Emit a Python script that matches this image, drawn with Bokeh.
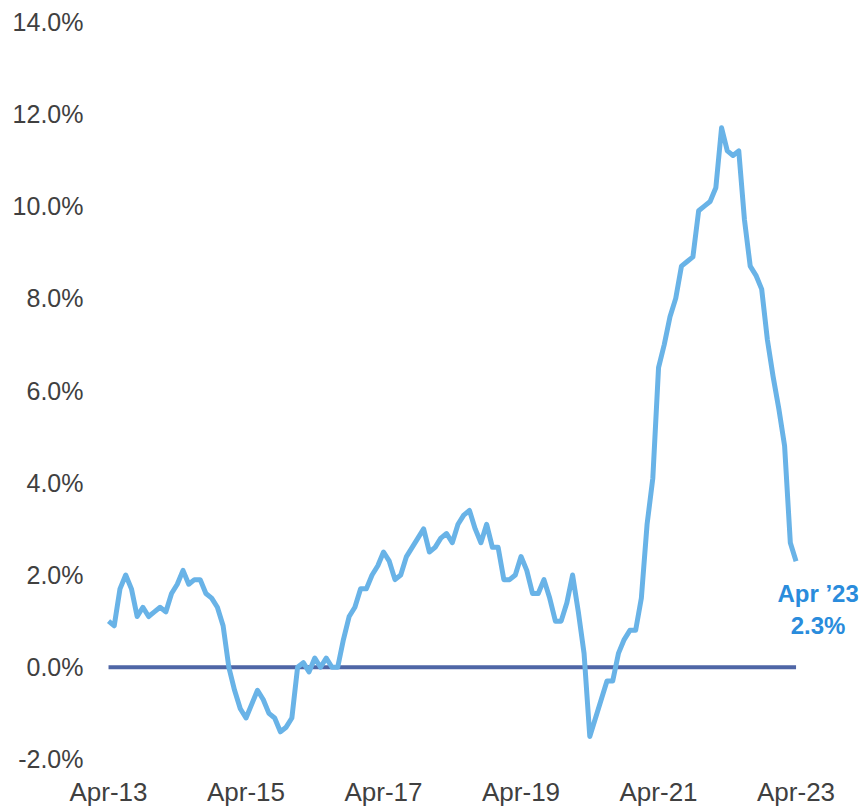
from bokeh.plotting import figure
from bokeh.models import FixedTicker, PrintfTickFormatter, Range1d, Label
from bokeh.embed import file_html
from bokeh.resources import INLINE

# ---- data ----
values = [
    1.0, 0.9, 1.7, 2.0, 1.7, 1.1, 1.3, 1.1, 1.2, 1.3, 1.2, 1.6,
    1.8, 2.1, 1.8, 1.9, 1.9, 1.6, 1.5, 1.3, 0.9, 0.0, -0.5, -0.9,
    -1.1, -0.8, -0.5, -0.7, -1.0, -1.1, -1.4, -1.3, -1.1, 0.0, 0.1, -0.1,
    0.2, 0.0, 0.2, 0.0, 0.0, 0.6, 1.1, 1.3, 1.7, 1.7, 2.0, 2.2,
    2.5, 2.3, 1.9, 2.0, 2.4, 2.6, 2.8, 3.0, 2.5, 2.6, 2.8, 2.9,
    2.7, 3.1, 3.3, 3.4, 3.0, 2.7, 3.1, 2.6, 2.6, 1.9, 1.9, 2.0,
    2.4, 2.1, 1.6, 1.6, 1.9, 1.5, 1.0, 1.0, 1.4, 2.0, 1.2, 0.3,
    -1.5, -1.1, -0.7, -0.3, -0.3, 0.3, 0.6, 0.8, 0.8, 1.5, 3.1, 4.1,
    6.5, 7.0, 7.6, 8.0, 8.7, 8.8, 8.9, 9.9, 10.0, 10.1, 10.4, 11.7,
    11.2, 11.1, 11.2, 9.7, 8.7, 8.5, 8.2, 7.1, 6.3, 5.6, 4.8, 2.7,
    2.3,
]
months = list(range(len(values)))  # month index, 0 = Apr-13
zero_line = [0.0 for _ in months]

x_tick_pos = [0, 24, 48, 72, 96, 120]
x_tick_labels = ["Apr-13", "Apr-15", "Apr-17", "Apr-19", "Apr-21", "Apr-23"]
y_ticks = [-2, 0, 2, 4, 6, 8, 10, 12, 14]

last_label_1 = "Apr \u201923"
last_label_2 = "2.3%"

# ---- figure ----
p = figure(
    width=866, height=809,
    output_backend="svg", toolbar_location=None,
    x_range=Range1d(-1.40, 130.9),
    y_range=Range1d(-2.001, 14.2),
    min_border_left=100, min_border_right=8, min_border_top=12, min_border_bottom=50,
    background_fill_color="white", border_fill_color="white",
)
p.outline_line_color = None
p.grid.visible = False

# axes
p.yaxis.ticker = FixedTicker(ticks=y_ticks)
p.yaxis.formatter = PrintfTickFormatter(format="%.1f%%")
p.xaxis.ticker = FixedTicker(ticks=x_tick_pos)
p.xaxis.major_label_overrides = {t: l for t, l in zip(x_tick_pos, x_tick_labels)}
for ax in (p.xaxis, p.yaxis):
    ax.axis_line_color = None
    ax.major_tick_line_color = None
    ax.minor_tick_line_color = None
    ax.major_tick_out = 0
    ax.major_tick_in = 0
    ax.minor_tick_out = 0
    ax.major_label_text_font = "Liberation Sans"
    ax.major_label_text_color = "#404040"
p.yaxis.major_label_text_font_size = "25px"
p.yaxis.major_label_standoff = 17
p.xaxis.major_label_text_font_size = "26px"
p.xaxis.major_label_standoff = 17

# zero line then series
p.line(months, zero_line, line_color="#4f66a6", line_width=4)
p.line(months, values, line_color="#69b3e7", line_width=5, line_join="round")

# annotation near the last point
ax_x = months[-1] + 3.85
lab1 = Label(x=ax_x, y=values[-1] - 0.69, text=last_label_1,
             text_font="Liberation Sans", text_font_style="bold",
             text_font_size="24px", text_color="#2a8cdc",
             text_align="center", text_baseline="middle")
lab2 = Label(x=ax_x, y=values[-1] - 1.39, text=last_label_2,
             text_font="Liberation Sans", text_font_style="bold",
             text_font_size="24px", text_color="#2a8cdc",
             text_align="center", text_baseline="middle")
p.add_layout(lab1)
p.add_layout(lab2)

open("out.html", "w").write(file_html(p, INLINE))
